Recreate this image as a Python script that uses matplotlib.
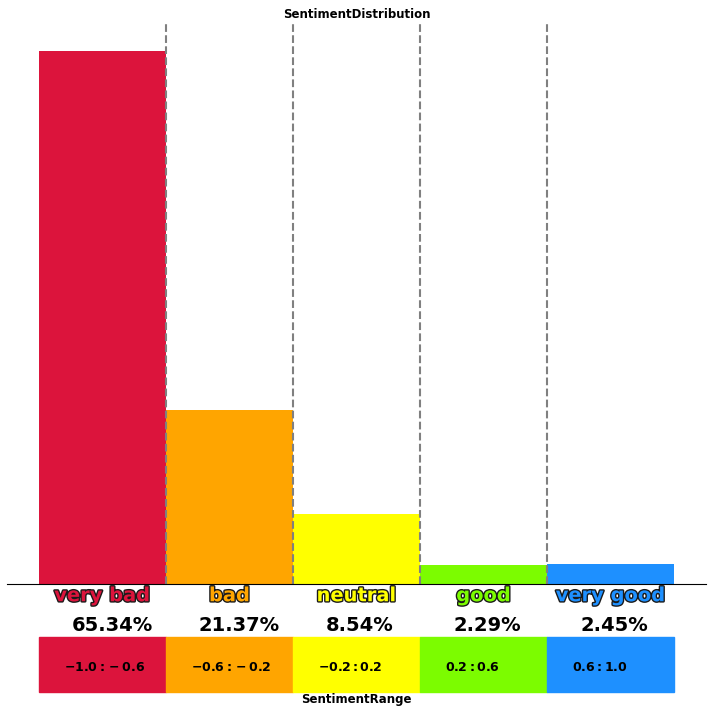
import numpy as np
import matplotlib
matplotlib.use("Agg")
import matplotlib.pyplot as plt
import matplotlib.patheffects as pe
import matplotlib.transforms as mtransforms

categories = ["very bad", "bad", "neutral", "good", "very good"]
percentages = [65.34, 21.37, 8.54, 2.29, 2.45]
bin_edges = [-1.0, -0.6, -0.2, 0.2, 0.6, 1.0]
ranges = [r"$\bf{-1.0{:}-0.6}$", r"$\bf{-0.6{:}-0.2}$", r"$\bf{-0.2:0.2}$",
          r"$\bf{0.2:0.6}$", r"$\bf{0.6:1.0}$"]
colors = ["crimson", "orange", "yellow", "lawngreen", "dodgerblue"]

fig = plt.figure(figsize=(7.12, 7.16), dpi=100)
ax = fig.add_axes([0.0098, 0.1844, 0.9818, 0.7821])

left = np.array(bin_edges[:-1])
width = np.diff(bin_edges)
ax.bar(left, percentages, width=width, align="edge", color=colors)

for e in bin_edges[1:-1]:
    ax.axvline(e, color="gray", linestyle="--", linewidth=1.5)

centers = left + width / 2
for l, c, cat, p, col in zip(left, centers, categories, percentages, colors):
    ax.text(c, -0.021, cat, transform=ax.get_xaxis_transform(), ha="center", va="center",
            fontsize=14, fontweight="bold", color=col,
            path_effects=[pe.withStroke(linewidth=2, foreground="#1a1a1a")])
    ax.text(l + 0.104, -0.075, f"{p:.2f}%", transform=ax.get_xaxis_transform(), ha="left", va="center",
            fontsize=14, fontweight="bold", color="black")

for s in ["top", "left", "right"]:
    ax.spines[s].set_visible(False)
ax.set_xticks([])
ax.set_yticks([])

# range strip under the labels
tbl = ax.table(cellText=[ranges], cellColours=[colors], cellLoc="left",
               bbox=[0.0458, -0.193, 0.9084, 0.0982])
tbl.auto_set_font_size(False)
tbl.set_fontsize(9)
for (r, cidx), cell in tbl.get_celld().items():
    cell.set_edgecolor(colors[cidx])
    cell.PAD = 0.2
    cell.get_text().set_va("center")
    # text sits a little below the cell middle in the reference
    cell.get_text().set_transform(mtransforms.Affine2D().translate(0, -3))

ax.set_title("SentimentDistribution", fontsize=8.5, fontweight="bold", pad=4)
fig.text(0.5, 1 - 700 / 716, "SentimentRange", ha="center", va="center",
         fontsize=8.5, fontweight="bold")

fig.savefig("out.png", dpi=100)
